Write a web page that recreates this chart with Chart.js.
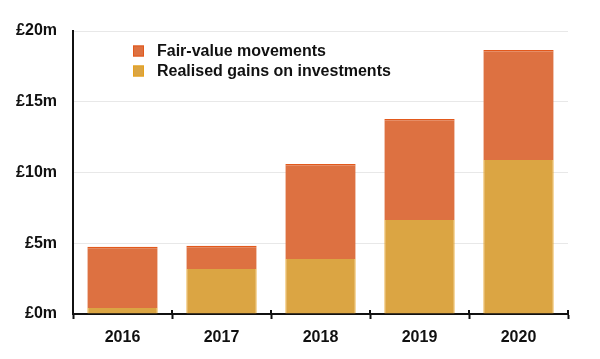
<!DOCTYPE html>
<html>
<head>
<meta charset="utf-8">
<script src="https://cdn.jsdelivr.net/npm/chart.js@4/dist/chart.umd.min.js"></script>
<style>
  html, body { margin: 0; padding: 0; background: #fff; }
  #wrap { width: 600px; height: 359px; }
</style>
</head>
<body>
<div id="wrap"><canvas id="chart"></canvas></div>
<script>
// values in £m
var years = ['2016', '2017', '2018', '2019', '2020'];
var realisedGains = [0.42, 3.18, 3.89, 6.64, 10.88];
var fairValue = [4.34, 1.65, 6.71, 7.14, 7.78];
var yTicks = [0, 5, 10, 15, 20];

var FONT = '"Liberation Sans", Arial, Helvetica, sans-serif';

// legend drawn inside the plot, fair-value first
var insideLegend = {
    id: 'insideLegend',
    afterDraw: function(chart) {
        var ctx = chart.ctx;
        var area = chart.chartArea;
        var items = chart.data.datasets.slice().reverse();
        ctx.save();
        ctx.font = 'bold 16px ' + FONT;
        ctx.textBaseline = 'middle';
        items.forEach(function(ds, i) {
            var x = area.left + 60;
            var y = area.top + 20 + i * 20;
            ctx.fillStyle = ds.backgroundColor;
            ctx.fillRect(x, y - 5.5, 11, 11);
            ctx.strokeStyle = ds.borderColor;
            ctx.lineWidth = 1;
            ctx.strokeRect(x + 0.5, y - 5, 10, 10);
            ctx.fillStyle = '#111';
            ctx.fillText(ds.label, x + 24, y + 1);
        });
        ctx.restore();
    }
};

// little ticks poking above the x axis line
var crossTicks = {
    id: 'crossTicks',
    afterDraw: function(chart) {
        var xs = chart.scales.x;
        var ctx = chart.ctx;
        var n = chart.data.labels.length;
        ctx.save();
        ctx.strokeStyle = '#111';
        ctx.lineWidth = 2;
        for (var i = 1; i <= n; i++) {
            var x = xs.left + i * xs.width / n;
            ctx.beginPath();
            ctx.moveTo(x, xs.top - 4);
            ctx.lineTo(x, xs.top);
            ctx.stroke();
        }
        ctx.restore();
    }
};

var ctx = document.getElementById('chart').getContext('2d');
var chart = new Chart(ctx, {
    type: 'bar',
    data: {
        labels: years,
        datasets: [{
            label: 'Realised gains on investments',
            data: realisedGains,
            backgroundColor: '#dba543',
            borderColor: '#e6a11c',
            borderWidth: {top: 0, left: 1, right: 1, bottom: 0}
        }, {
            label: 'Fair-value movements',
            data: fairValue,
            backgroundColor: '#dd7141',
            borderColor: '#e2591c',
            borderWidth: {top: 1.5, left: 0, right: 0, bottom: 0}
        }]
    },
    options: {
        responsive: true,
        maintainAspectRatio: false,
        animation: false,
        layout: {padding: {top: 31, right: 32, left: 0, bottom: 0}},
        datasets: {bar: {categoryPercentage: 1, barPercentage: 0.71}},
        plugins: {
            legend: {display: false},
            tooltip: {enabled: false}
        },
        scales: {
            x: {
                stacked: true,
                afterFit: function(s) { s.height = 45; },
                grid: {
                    offset: true,
                    drawOnChartArea: false,
                    tickLength: 5,
                    tickColor: '#111',
                    tickWidth: 2
                },
                border: {color: '#111', width: 2},
                ticks: {
                    color: '#111',
                    padding: 9,
                    font: {family: FONT, size: 16, weight: 'bold'}
                }
            },
            y: {
                stacked: true,
                min: 0,
                max: 20,
                afterFit: function(s) { s.width = 73; },
                afterBuildTicks: function(s) {
                    s.ticks = yTicks.map(function(v) { return {value: v}; });
                },
                grid: {color: '#e8e8e8', drawTicks: false},
                border: {color: '#111', width: 2},
                ticks: {
                    color: '#111',
                    padding: 16,
                    font: {family: FONT, size: 16, weight: 'bold'},
                    callback: function(v) { return '£' + v + 'm'; }
                }
            }
        }
    },
    plugins: [insideLegend, crossTicks]
});
</script>
</body>
</html>
